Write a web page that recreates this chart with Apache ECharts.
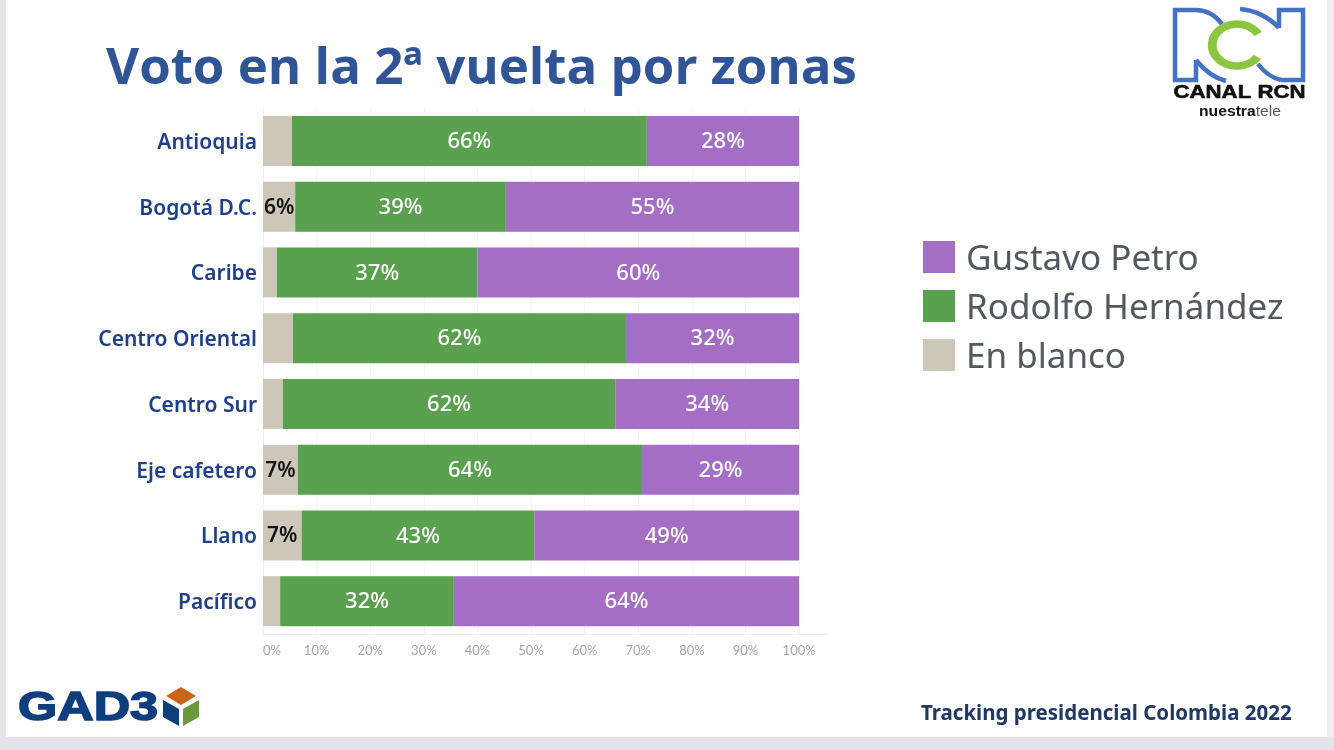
<!DOCTYPE html>
<html>
<head>
<meta charset="utf-8">
<script src="https://cdn.jsdelivr.net/npm/echarts@6/dist/echarts.min.js"></script>
<style>
html, body { margin: 0; padding: 0; background: #fff; }
#chart { width: 1334px; height: 750px; }
</style>
</head>
<body>
<div id="chart"></div>
<script>
var zonas = ['Antioquia', 'Bogotá D.C.', 'Caribe', 'Centro Oriental', 'Centro Sur', 'Eje cafetero', 'Llano', 'Pacífico']
var enBlanco = [5.4, 6.0, 2.6, 5.6, 3.7, 6.5, 7.2, 3.2]
var rodolfo = [66.2, 39.3, 37.4, 62.1, 62.0, 64.2, 43.4, 32.4]
var petro = [28.4, 54.7, 60.0, 32.3, 34.3, 29.3, 49.4, 64.4]
var ticks = [0, 10, 20, 30, 40, 50, 60, 70, 80, 90, 100]

var myChart = echarts.init(document.getElementById('chart'))

var labelFont = '"Noto Sans", "Open Sans", sans-serif'
var blue = '#4472c4'

function pct(p) {
    return Math.round(p.value) + '%'
}

// logo lines, nothing to do with the data
function line(x1, y1, x2, y2, cx1, cy1, cx2, cy2) {
    return {
        type: 'bezierCurve',
        shape: { x1: x1, y1: y1, x2: x2, y2: y2, cpx1: cx1, cpy1: cy1, cpx2: cx2, cpy2: cy2 },
        style: { stroke: blue, lineWidth: 4.5, fill: null }
    }
}

var logos = [
    // slide edges
    { type: 'rect', shape: { x: 0, y: 0, width: 6, height: 750 }, style: { fill: '#e4e4ea' } },
    { type: 'rect', shape: { x: 1327, y: 0, width: 7, height: 750 }, style: { fill: '#f0f0f4' } },
    { type: 'rect', shape: { x: 0, y: 737, width: 1334, height: 13 }, style: { fill: '#e4e4ea' } },
    // RCN
    { type: 'polyline', shape: { points: [[1196, 10], [1175, 10], [1175, 80], [1196, 80], [1196, 60]] }, style: { stroke: blue, lineWidth: 4.5, fill: null } },
    { type: 'polyline', shape: { points: [[1279, 28], [1279, 10], [1303, 10], [1303, 80], [1281, 80]] }, style: { stroke: blue, lineWidth: 4.5, fill: null } },
    line(1196, 10, 1222, 24, 1206, 10, 1215, 15),
    line(1196, 60, 1226, 81, 1204, 70, 1214, 78),
    line(1240, 9, 1279, 28, 1255, 10, 1270, 18),
    line(1258, 64, 1281, 80, 1264, 72, 1272, 78),
    { type: 'arc', originX: 1237, originY: 45, scaleX: 1.18, shape: { cx: 1237, cy: 45, r: 21, startAngle: -0.55, endAngle: 0.6, clockwise: false }, style: { stroke: '#8cc63f', lineWidth: 7.5, fill: null } },
    { type: 'text', x: 1239.5, y: 93, scaleX: 1.17, style: { x: 0, y: 0, text: 'CANAL RCN', align: 'center', verticalAlign: 'middle', font: '900 19px "Liberation Sans"', fill: '#111', stroke: '#111', lineWidth: 0.6 } },
    { type: 'text', x: 1240, y: 112, scaleX: 1.12, style: { x: 0, y: 0, text: '{a|nuestra}{b|tele}', align: 'center', verticalAlign: 'middle', rich: { a: { font: 'bold 14px "Liberation Sans"', fill: '#111' }, b: { font: '14px "Liberation Sans"', fill: '#555' } } } },
    // GAD3
    { type: 'text', x: 18, y: 709, scaleX: 1.23, style: { x: 0, y: 0, text: 'GAD3', align: 'left', verticalAlign: 'middle', font: '900 41px "Liberation Sans"', fill: '#0f3d7d', stroke: '#0f3d7d', lineWidth: 1.5 } },
    { type: 'polygon', shape: { points: [[181, 687], [196, 696], [181, 705], [166, 696]] }, style: { fill: '#c8651b' } },
    { type: 'polygon', shape: { points: [[163, 700], [179, 709], [179, 726], [163, 717]] }, style: { fill: '#0f3d7d' } },
    { type: 'polygon', shape: { points: [[199, 700], [183, 709], [183, 726], [199, 717]] }, style: { fill: '#6a9a3a' } },
    // footer
    { type: 'text', style: { x: 921, y: 714, text: 'Tracking presidencial Colombia 2022', align: 'left', verticalAlign: 'middle', font: 'bold 20.5px "Noto Sans"', fill: '#1f3864' } }
]

var option = {
    animation: false,
    title: {
        text: 'Voto en la 2ª vuelta por zonas',
        left: 101,
        top: 39,
        textStyle: { color: '#2f5597', fontSize: 51, fontWeight: 700, fontFamily: '"Open Sans", sans-serif' }
    },
    legend: {
        orient: 'vertical',
        left: 923,
        top: 241,
        padding: 0,
        itemWidth: 32,
        itemHeight: 32,
        itemGap: 12.5,
        icon: 'rect',
        data: ['Gustavo Petro', 'Rodolfo Hernández', 'En blanco'],
        formatter: '{a|{name}}',
        textStyle: {
            rich: {
                a: { color: '#505860', fontSize: 35, fontFamily: labelFont, padding: [6, 0, 0, 6] }
            }
        }
    },
    grid: { left: 263, top: 108, width: 564, height: 526 },
    xAxis: {
        type: 'value',
        min: 0,
        max: 105.2,
        interval: 10,
        axisTick: { show: false },
        axisLine: { show: true, lineStyle: { color: '#f0f0f0' } },
        splitLine: { show: true, showMaxLine: false, lineStyle: { color: '#f5f5f5' } },
        axisLabel: {
            color: '#a6a6a6',
            fontSize: 13,
            margin: 10,
            fontFamily: 'Lato, sans-serif',
            alignMinLabel: 'left',
            customValues: ticks,
            formatter: '{value}%'
        }
    },
    yAxis: {
        type: 'category',
        inverse: true,
        data: zonas,
        axisTick: { show: false },
        axisLine: { show: true, lineStyle: { color: '#f0f0f0' } },
        splitLine: { show: false },
        axisLabel: {
            margin: 6,
            formatter: '{a|{value}}',
            rich: {
                a: { color: '#1f3f8a', fontSize: 21, fontWeight: 600, padding: [4, 0, 0, 0], fontFamily: labelFont }
            }
        }
    },
    series: [
        {
            name: 'En blanco',
            type: 'bar',
            stack: 'voto',
            barWidth: 50,
            data: enBlanco,
            itemStyle: { color: '#cdc7b9' },
            label: {
                show: true,
                position: 'inside',
                offset: [0, 1],
                color: '#111',
                fontSize: 21,
                fontWeight: 600,
                fontFamily: labelFont,
                // only the wide enough segments carry a label
                formatter: function (p) { return p.value >= 5.9 ? pct(p) : '' }
            }
        },
        {
            name: 'Rodolfo Hernández',
            type: 'bar',
            stack: 'voto',
            data: rodolfo,
            itemStyle: { color: '#5aa14f' },
            label: { show: true, position: 'inside', offset: [0, 1], color: '#fff', fontSize: 22, fontWeight: 500, fontFamily: labelFont, formatter: pct }
        },
        {
            name: 'Gustavo Petro',
            type: 'bar',
            stack: 'voto',
            data: petro,
            itemStyle: { color: '#a36ec4' },
            label: { show: true, position: 'inside', offset: [0, 1], color: '#fff', fontSize: 22, fontWeight: 500, fontFamily: labelFont, formatter: pct }
        }
    ],
    graphic: logos
}

myChart.setOption(option)
</script>
</body>
</html>
